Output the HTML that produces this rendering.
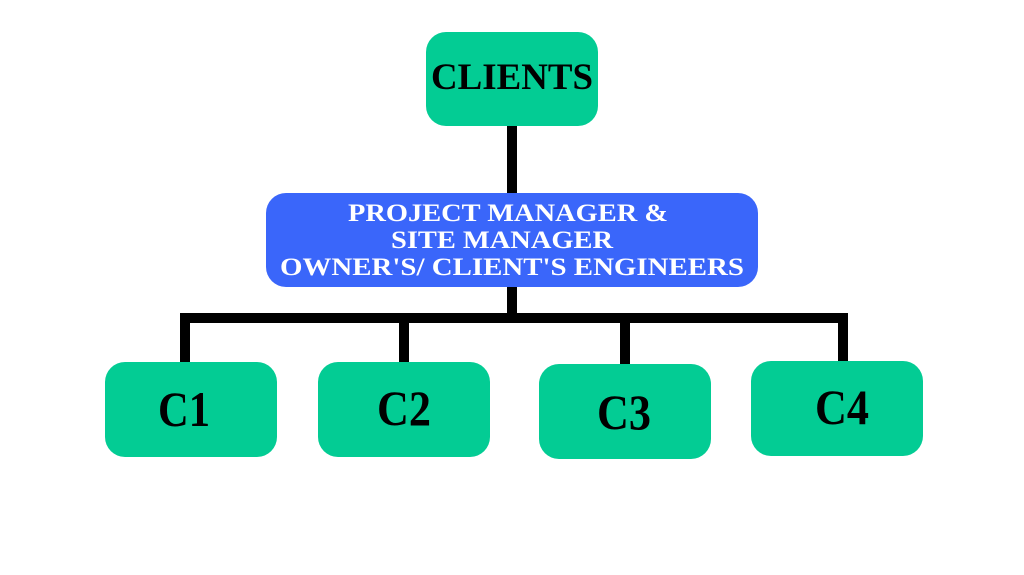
<!DOCTYPE html>
<html><head><meta charset="utf-8"><style>html,body{margin:0;padding:0;background:#fff}svg{display:block}</style></head>
<body>
<svg width="1024" height="575" viewBox="0 0 1024 575" xmlns="http://www.w3.org/2000/svg" font-family="Liberation Serif, serif" font-weight="bold">
<rect x="0" y="0" width="1024" height="575" fill="#fff"/>
<rect x="507" y="124" width="10" height="72" fill="#000"/>
<rect x="507" y="285" width="10" height="38" fill="#000"/>
<rect x="180" y="313" width="668" height="10" fill="#000"/>
<rect x="180" y="313" width="10" height="52" fill="#000"/>
<rect x="399" y="318" width="10" height="46" fill="#000"/>
<rect x="620" y="318" width="10" height="50" fill="#000"/>
<rect x="838" y="313" width="10" height="52" fill="#000"/>
<rect x="426" y="32" width="172" height="94" rx="20" fill="#03cc94"/>
<text x="512" y="89" font-size="37" text-anchor="middle" fill="#000" textLength="162" lengthAdjust="spacingAndGlyphs">CLIENTS</text>
<rect x="266" y="193" width="492" height="94" rx="20" fill="#3a66fa"/>
<g fill="#fff" font-size="25" text-anchor="middle">
<text x="508" y="221" textLength="320" lengthAdjust="spacingAndGlyphs">PROJECT MANAGER &amp;</text>
<text x="502" y="248" textLength="222" lengthAdjust="spacingAndGlyphs">SITE MANAGER</text>
<text x="512" y="275" textLength="464" lengthAdjust="spacingAndGlyphs">OWNER'S/ CLIENT'S ENGINEERS</text>
</g>
<rect x="105" y="362" width="172" height="95" rx="20" fill="#03cc94"/>
<rect x="318" y="362" width="172" height="95" rx="20" fill="#03cc94"/>
<rect x="539" y="364" width="172" height="95" rx="20" fill="#03cc94"/>
<rect x="751" y="361" width="172" height="95" rx="20" fill="#03cc94"/>
<g font-size="50" text-anchor="middle" fill="#000">
<text x="184" y="426" textLength="52" lengthAdjust="spacingAndGlyphs">C1</text>
<text x="404" y="425" textLength="54" lengthAdjust="spacingAndGlyphs">C2</text>
<text x="624" y="429" textLength="54" lengthAdjust="spacingAndGlyphs">C3</text>
<text x="842" y="424" textLength="54" lengthAdjust="spacingAndGlyphs">C4</text>
</g>
</svg>
</body></html>
